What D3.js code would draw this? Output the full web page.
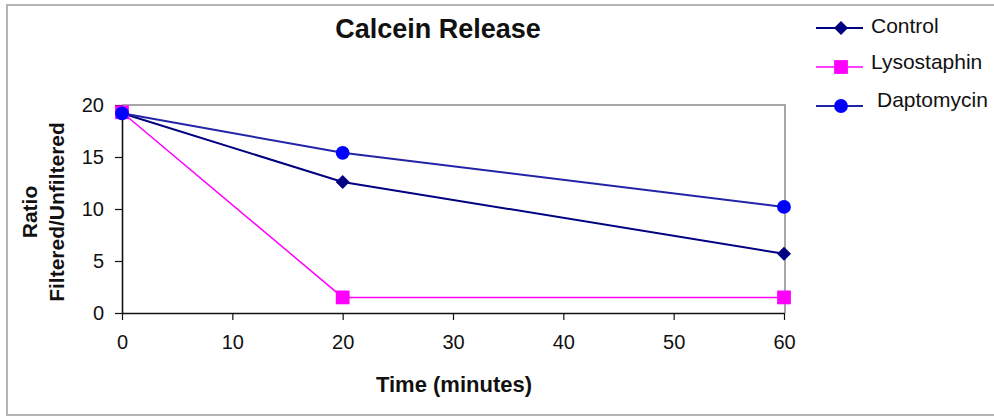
<!DOCTYPE html>
<html>
<head>
<meta charset="utf-8">
<script src="https://cdn.jsdelivr.net/npm/d3@7/dist/d3.min.js"></script>
<style>
  html, body { margin: 0; padding: 0; background: #fff; }
  svg { display: block; font-family: "Liberation Sans", Arial, sans-serif; }
</style>
</head>
<body>
<svg id="chart" width="994" height="420"></svg>
<script>
// Time points (minutes)
const times = [0, 20, 60];
// Ratio filtered/unfiltered for each treatment
const controlValues = [19.2, 12.6, 5.7];
const lysostaphinValues = [19.3, 1.5, 1.5];
const daptomycinValues = [19.2, 15.4, 10.2];
const seriesNames = ["Control", "Lysostaphin", "Daptomycin"];
const xTicks = [0, 10, 20, 30, 40, 50, 60];
const yTicks = [0, 5, 10, 15, 20];

const series = [
  { name: seriesNames[0], values: controlValues, line: "#000080", fill: "#000080", shape: "diamond", width: 2 },
  { name: seriesNames[1], values: lysostaphinValues, line: "#ff00ff", fill: "#ff00ff", shape: "square", width: 1.5 },
  { name: seriesNames[2], values: daptomycinValues, line: "#2323a8", fill: "#0000ff", shape: "circle", width: 2 }
];

const svg = d3.select("#chart");

// Outer chart border
svg.append("rect")
  .attr("x", 7).attr("y", 5).attr("width", 1000).attr("height", 410)
  .attr("fill", "none").attr("stroke", "#b4b4b4").attr("stroke-width", 2);

const plot = { left: 122, right: 784, top: 105, bottom: 313 };

const x = d3.scaleLinear().domain([0, 60]).range([plot.left, plot.right]);
const y = d3.scaleLinear().domain([0, 20]).range([plot.bottom, plot.top]);

// Plot frame (top and right edges)
svg.append("path")
  .attr("d", `M${x(0)},${y(20)}H${x(60) + 1}V${y(0)}`)
  .attr("fill", "none").attr("stroke", "#8a8a8a").attr("stroke-width", 1.5);

// Axes
const xAxis = svg.append("g")
  .attr("transform", `translate(0,${plot.bottom})`)
  .call(d3.axisBottom(x).tickValues(xTicks).tickSize(7).tickPadding(10).tickSizeOuter(0));
const yAxis = svg.append("g")
  .attr("transform", `translate(${plot.left},0)`)
  .call(d3.axisLeft(y).tickValues(yTicks).tickSize(7).tickPadding(11).tickSizeOuter(0));

[xAxis, yAxis].forEach(g => {
  g.select(".domain").attr("stroke", "#111").attr("stroke-width", 1.6);
  g.selectAll(".tick line").attr("stroke", "#111").attr("stroke-width", 1.2);
  g.selectAll(".tick text")
    .attr("fill", "#111")
    .style("font-family", "'Liberation Sans', Arial, sans-serif")
    .style("font-size", "20px");
});
xAxis.selectAll(".tick text").attr("dy", "0.95em");

// Title
svg.append("text")
  .attr("x", 438).attr("y", 38)
  .attr("text-anchor", "middle")
  .style("font-size", "27px").style("font-weight", "bold")
  .attr("fill", "#111")
  .text("Calcein Release");

// X axis title
svg.append("text")
  .attr("x", 454).attr("y", 392)
  .attr("text-anchor", "middle")
  .style("font-size", "22px").style("font-weight", "bold")
  .attr("fill", "#111")
  .text("Time (minutes)");

// Y axis title (two lines)
const yTitle = svg.append("text")
  .attr("transform", "translate(37,212) rotate(-90)")
  .attr("text-anchor", "middle")
  .style("font-size", "21px").style("font-weight", "bold")
  .attr("fill", "#111");
yTitle.append("tspan").attr("x", 0).attr("y", 0).text("Ratio");
yTitle.append("tspan").attr("x", 0).attr("y", 27).text("Filtered/Unfiltered");

// Marker symbols
function drawMarker(g, s, cx, cy) {
  if (s.shape === "diamond") {
    const r = 7;
    g.append("path")
      .attr("d", `M${cx},${cy - r}L${cx + r},${cy}L${cx},${cy + r}L${cx - r},${cy}Z`)
      .attr("fill", s.fill);
  } else {
    const type = s.shape === "square" ? d3.symbolSquare : d3.symbolCircle;
    const size = s.shape === "square" ? 190 : 150;
    g.append("path")
      .attr("transform", `translate(${cx},${cy})`)
      .attr("d", d3.symbol().type(type).size(size)())
      .attr("fill", s.fill);
  }
}

const line = d3.line().x((d, i) => x(times[i])).y(d => y(d));

series.forEach(s => {
  const g = svg.append("g");
  g.append("path")
    .attr("d", line(s.values))
    .attr("fill", "none")
    .attr("stroke", s.line)
    .attr("stroke-width", s.width);
  s.values.forEach((v, i) => drawMarker(g, s, x(times[i]), y(v)));
});

// Legend
const legendY = [28, 67, 106];
const legendTextX = [871, 871, 877];
const legendBaseline = [33, 69, 107];
series.forEach((s, i) => {
  const g = svg.append("g");
  g.append("line")
    .attr("x1", 816).attr("x2", 863)
    .attr("y1", legendY[i]).attr("y2", legendY[i])
    .attr("stroke", s.line).attr("stroke-width", s.width);
  drawMarker(g, s, 841, legendY[i]);
  g.append("text")
    .attr("x", legendTextX[i]).attr("y", legendBaseline[i])
    .style("font-size", "21px")
    .attr("fill", "#111")
    .text(s.name);
});
</script>
</body>
</html>
